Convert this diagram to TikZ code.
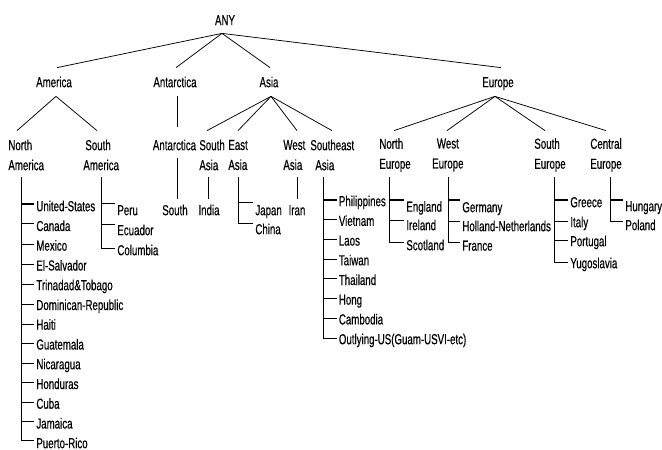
\documentclass[tikz,border=0pt]{standalone}
\usepackage{fontspec}
\setmainfont{Liberation Sans}[FakeStretch=0.67,FakeBold=0.4]
\begin{document}
\begin{tikzpicture}[x=1pt,y=-1pt,
  font=\fontsize{14.5}{20}\selectfont,
  line width=0.75pt,
  rootnode/.style={anchor=base,inner sep=0pt,text height=10.4pt,text depth=7.8pt},
  lvone/.style={anchor=base,inner sep=0pt,text height=19.2pt,text depth=8.8pt},
  lvtwo/.style={anchor=west,inner sep=0pt,align=left,text width=50pt,minimum height=48pt},
  listitem/.style={anchor=west,inner xsep=2pt,inner ysep=0pt,text height=10.4pt,text depth=0pt},
  leafnode/.style={inner xsep=0pt,inner ysep=5pt,text height=10.4pt,text depth=0pt},
  firsttick/.style={line width=1.6pt}
]
\useasboundingbox (0,0) rectangle (662,450);
% level 0 and 1
\node[rootnode] (any) at (225,25.2) {ANY};
\node[lvone] (america) at (54,87.2) {America};
\node[lvone] (antarctica) at (175,87.2) {Antarctica};
\node[lvone] (asia) at (269,87.2) {Asia};
\node[lvone] (europe) at (498,87.2) {Europe};
\draw ([xshift=-3pt]any.south) -- ([xshift=3pt]america.north);
\draw ([xshift=-3pt]any.south) -- ([xshift=1pt]antarctica.north);
\draw ([xshift=-3pt]any.south) -- ([xshift=1pt]asia.north);
\draw ([xshift=-3pt]any.south) -- ([xshift=3pt]europe.north);
% level 2
\node[lvtwo] (na) at (8,155) {North\\America};
\node[lvtwo] (sa) at (83,155) {\hspace*{2pt}South\\America};
\node[anchor=base,inner sep=0pt,text height=23.2pt,text depth=7.8pt] (ant2) at (174.5,150.2) {Antarctica};
\node[lvtwo] (sas) at (199,155) {South\\Asia};
\node[lvtwo] (eas) at (228,155) {East\\Asia};
\node[lvtwo] (was) at (283,155) {West\\Asia};
\node[lvtwo] (seas) at (310,155) {Southeast\\\hspace*{5pt}Asia};
\node[lvtwo] (neu) at (379,155) {North\\Europe};
\node[lvtwo,align=center] (weu) at (422.5,155) {West\\Europe};
\node[lvtwo] (seu) at (534,155) {South\\Europe};
\node[lvtwo] (ceu) at (590,155) {Central\\Europe};
\draw ([xshift=2pt]america.south) -- ([xshift=9pt]na.north west);
\draw ([xshift=2pt]america.south) -- ([xshift=14pt]sa.north west);
\draw ([xshift=2pt]antarctica.south) -- ([xshift=2.5pt]ant2.north);
\draw ([xshift=2pt]asia.south) -- ([xshift=8pt]sas.north west);
\draw ([xshift=2pt]asia.south) -- ([xshift=10pt]eas.north west);
\draw ([xshift=2pt]asia.south) -- ([xshift=14pt]was.north west);
\draw ([xshift=2pt]asia.south) -- ([xshift=22pt]seas.north west);
\draw ([xshift=-3pt]europe.south) -- ([xshift=15pt]neu.north west);
\draw ([xshift=-3pt]europe.south) -- ([xshift=24.5pt]weu.north west);
\draw ([xshift=-3pt]europe.south) -- ([xshift=11pt]seu.north west);
\draw ([xshift=-3pt]europe.south) -- ([xshift=16pt]ceu.north west);
% stem tops
\coordinate (naS) at ([xshift=13pt,yshift=2pt]na.south west);
\coordinate (saS) at ([xshift=18pt,yshift=2pt]sa.south west);
\coordinate (antS) at ([xshift=2.5pt]ant2.south);
\coordinate (sasS) at ([xshift=9pt,yshift=2pt]sas.south west);
\coordinate (easS) at ([xshift=10pt,yshift=2pt]eas.south west);
\coordinate (wasS) at ([xshift=14pt,yshift=2pt]was.south west);
\coordinate (seasS) at ([xshift=13pt,yshift=2pt]seas.south west);
\coordinate (neuS) at ([xshift=10pt,yshift=2pt]neu.south west);
\coordinate (weuS) at ([xshift=25.5pt,yshift=2pt]weu.south west);
\coordinate (seuS) at ([xshift=20pt,yshift=2pt]seu.south west);
\coordinate (ceuS) at ([xshift=20pt,yshift=2pt]ceu.south west);
% North America
\node[listitem] (us) at (34,206) {United-States};
\node[listitem] (ca) at (34,225.8) {Canada};
\node[listitem] (mx) at (34,245.5) {Mexico};
\node[listitem] (es) at (34,265.3) {El-Salvador};
\node[listitem] (tt) at (34,285) {Trinadad\&Tobago};
\node[listitem] (dr) at (34,304.8) {Dominican-Republic};
\node[listitem] (ht) at (34,324.5) {Haiti};
\node[listitem] (gt) at (34,344.3) {Guatemala};
\node[listitem] (ni) at (34,364) {Nicaragua};
\node[listitem] (ho) at (34,383.8) {Honduras};
\node[listitem] (cu) at (34,403.5) {Cuba};
\node[listitem] (jm) at (34,423.3) {Jamaica};
\node[listitem] (pr) at (34,443) {Puerto-Rico};
\draw (naS) |- ([yshift=3pt]pr.west);
\draw[firsttick] ([yshift=2pt]us.west) -- ([yshift=2pt]us.west -| naS);
\foreach \n/\d in {ca/2,mx/1.5,es/1,tt/1,dr/0.5,ht/0.5,gt/0.5,ni/0.5,ho/1,cu/1.5,jm/2}
  \draw ([yshift=\d pt]\n.west) -- ([yshift=\d pt]\n.west -| naS);
% South America
\node[listitem] (pe) at (115,210) {Peru};
\node[listitem] (ec) at (115,230) {Ecuador};
\node[listitem] (co) at (115,250) {Columbia};
\draw (saS) |- ([yshift=2pt]co.west);
\draw ([yshift=7pt]pe.west) -- ([yshift=7pt]pe.west -| saS);
\draw ([yshift=6pt]ec.west) -- ([yshift=6pt]ec.west -| saS);
% Antarctica, South Asia, West Asia
\node[leafnode] (south) at (175,210) {South};
\node[leafnode] (india) at (209,210) {India};
\node[leafnode] (iran) at (297,210) {Iran};
\draw (antS) -- (antS |- south.north);
\draw (sasS) -- (sasS |- india.north);
\draw (wasS) -- (wasS |- iran.north);
% East Asia
\node[listitem] (jp) at (253,210) {Japan};
\node[listitem] (cn) at (253,229) {China};
\draw (easS) |- ([yshift=6pt]cn.west);
\draw ([yshift=8pt]jp.west) -- ([yshift=8pt]jp.west -| easS);
% Southeast Asia
\node[listitem] (ph) at (336.5,201) {Philippines};
\node[listitem] (vn) at (336.5,220.7) {Vietnam};
\node[listitem] (la) at (336.5,240.4) {Laos};
\node[listitem] (tw) at (336.5,260.1) {Taiwan};
\node[listitem] (th) at (336.5,279.8) {Thailand};
\node[listitem] (hg) at (336.5,299.5) {Hong};
\node[listitem] (kh) at (336.5,319.2) {Cambodia};
\node[listitem] (ou) at (336.5,339) {Outlying-US(Guam-USVI-etc)};
\draw (seasS) |- ([yshift=1pt]ou.west);
\draw[firsttick] ([yshift=1pt]ph.west) -- ([yshift=1pt]ph.west -| seasS);
\foreach \n in {vn,la,tw,th,hg,kh}
  \draw ([yshift=1pt]\n.west) -- ([yshift=1pt]\n.west -| seasS);
% North Europe
\node[listitem] (en) at (404,206.5) {England};
\node[listitem] (ie) at (404,225) {Ireland};
\node[listitem] (sc) at (404,245) {Scotland};
\draw (neuS) |- ([yshift=3pt]sc.west);
\draw[firsttick] ([yshift=6.5pt]en.west) -- ([yshift=6.5pt]en.west -| neuS);
\draw ([yshift=5pt]ie.west) -- ([yshift=5pt]ie.west -| neuS);
% West Europe
\node[listitem] (de) at (460,207) {Germany};
\node[listitem] (nl) at (460,226) {Holland-Netherlands};
\node[listitem] (fr) at (460,245.5) {France};
\draw (weuS) |- ([yshift=3.5pt]fr.west);
\draw[firsttick] ([yshift=7pt]de.west) -- ([yshift=7pt]de.west -| weuS);
\draw ([yshift=5pt]nl.west) -- ([yshift=5pt]nl.west -| weuS);
% South Europe
\node[listitem] (gr) at (568,202) {Greece};
\node[listitem] (it) at (568,222) {Italy};
\node[listitem] (pt) at (568,241) {Portugal};
\node[listitem] (yu) at (568,263) {Yugoslavia};
\draw (seuS) |- ([yshift=1pt]yu.west);
\draw[firsttick] ([yshift=2pt]gr.west) -- ([yshift=2pt]gr.west -| seuS);
\draw ([yshift=1pt]it.west) -- ([yshift=1pt]it.west -| seuS);
\draw ([yshift=1pt]pt.west) -- ([yshift=1pt]pt.west -| seuS);
% Central Europe
\node[listitem] (hu) at (623,206) {Hungary};
\node[listitem] (pl) at (623,225) {Poland};
\draw (ceuS) |- ([yshift=4pt]pl.west);
\draw[firsttick] ([yshift=6pt]hu.west) -- ([yshift=6pt]hu.west -| ceuS);
\end{tikzpicture}
\end{document}
